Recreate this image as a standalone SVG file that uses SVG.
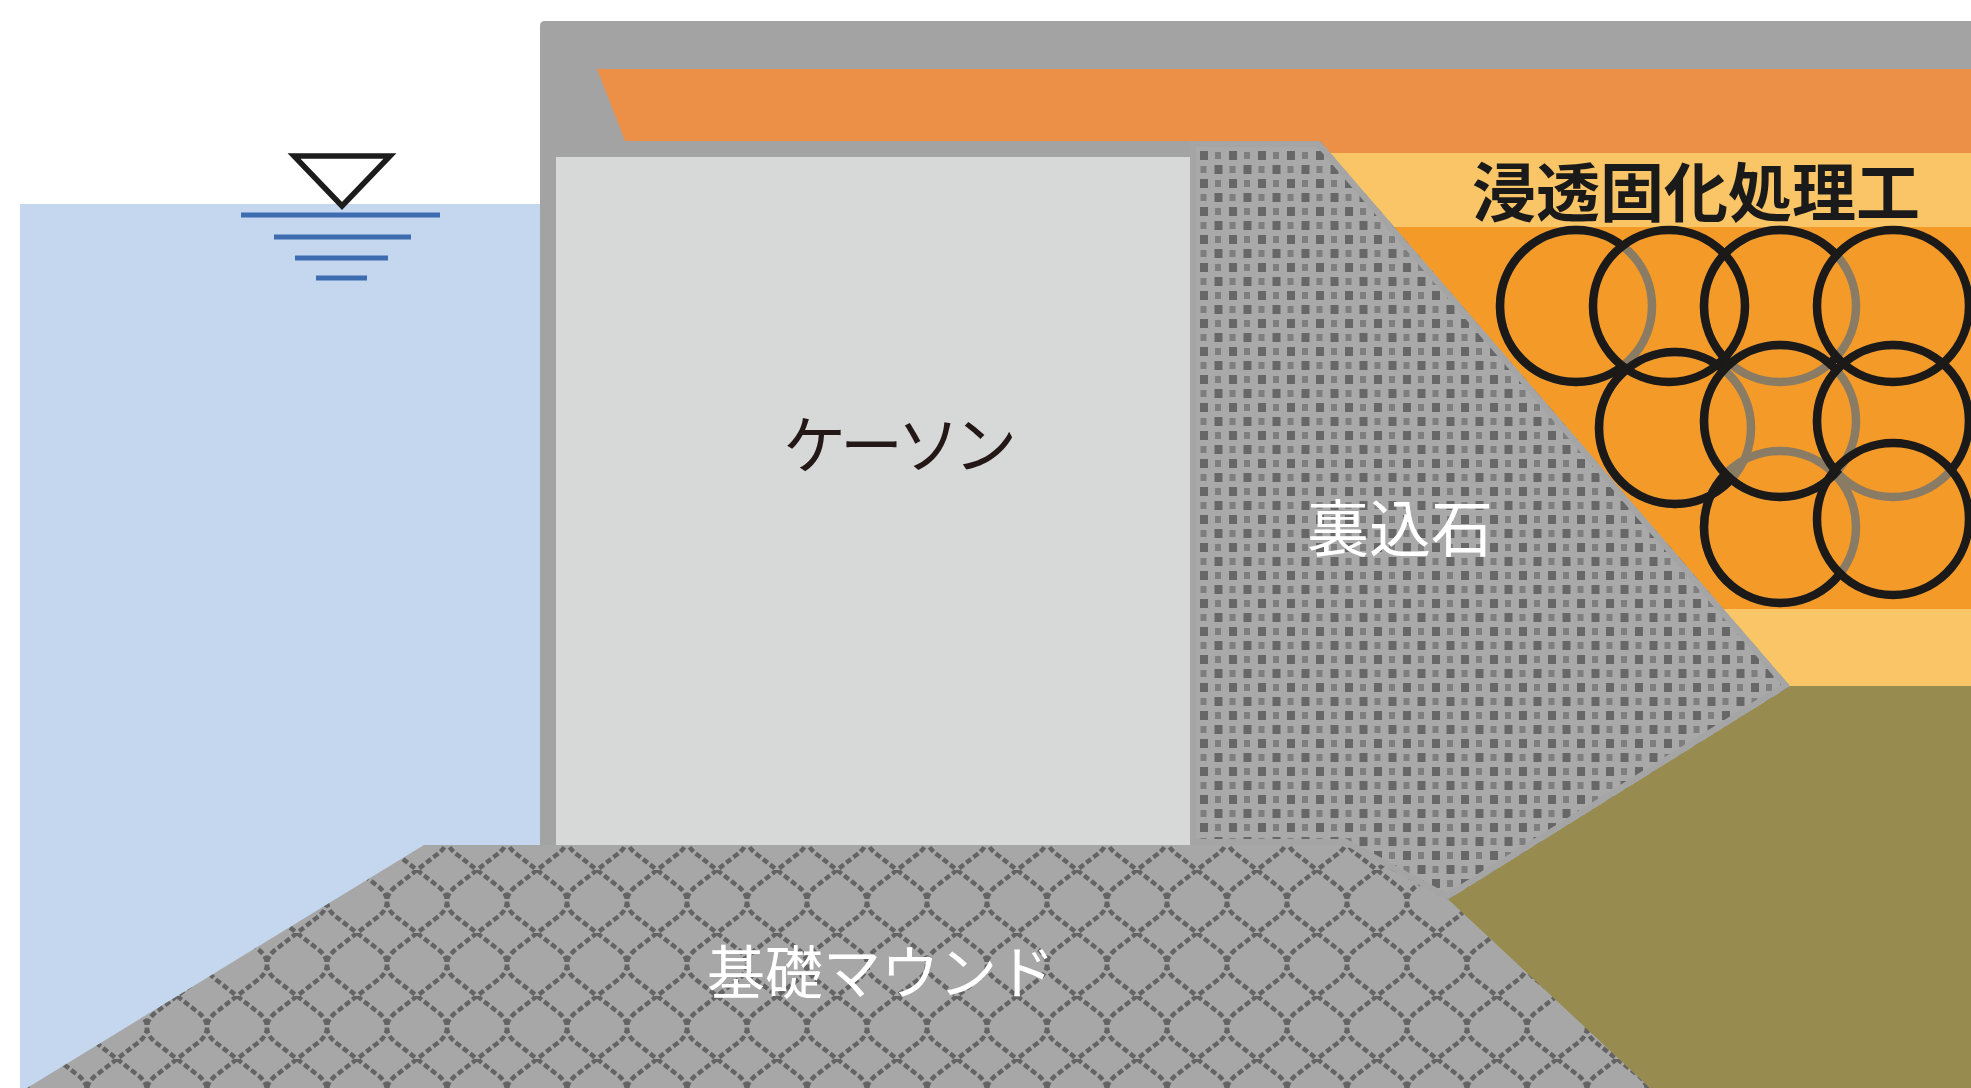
<svg xmlns="http://www.w3.org/2000/svg" width="1971" height="1088" viewBox="0 0 1971 1088">
<style>
  .lbl{font-family:"Noto Sans CJK JP","Noto Sans CJK SC",sans-serif;text-anchor:middle}
  .ring{fill:none;stroke-width:8.5}
  .ring-k{stroke:#1c1a19}
  .ring-g{stroke:#8a7c64}
  .wl{stroke:#3d6db0;stroke-width:5}
</style>
<defs>
  <!-- backfill stones: checkered small squares -->
  <pattern id="stones" width="29" height="28" patternUnits="userSpaceOnUse" patternTransform="translate(1198,149)">
    <rect width="29" height="28" fill="#a9a9a9"/>
    <rect x="2" y="2" width="8" height="9" fill="#676767"/>
    <rect x="16.5" y="16" width="8" height="9" fill="#676767"/>
    <rect x="17" y="3" width="6" height="7" fill="#7e7e7e"/>
    <rect x="2.5" y="17" width="6" height="7" fill="#7e7e7e"/>
  </pattern>
  <!-- rubble mound: interlocking lens/scale lattice -->
  <pattern id="scales" width="60" height="63" patternUnits="userSpaceOnUse" patternTransform="translate(417,870)">
    <rect width="60" height="63" fill="#a7a7a7"/>
    <path d="M0,0 L18,14 Q30,22 30,31.5 Q30,41 18,49 L0,63 M60,0 L42,14 Q30,22 30,31.5 Q30,41 42,49 L60,63" fill="none" stroke="#646464" stroke-width="4.5" stroke-dasharray="6 3"/>
  </pattern>
  <!-- masks hiding the parts of a ring that lie under a later column -->
  <mask id="m1" maskUnits="userSpaceOnUse" x="0" y="0" width="1971" height="1088">
    <rect width="1971" height="1088" fill="#fff"/><circle cx="1669" cy="306" r="72" fill="#000"/>
  </mask>
  <mask id="m3" maskUnits="userSpaceOnUse" x="0" y="0" width="1971" height="1088">
    <rect width="1971" height="1088" fill="#fff"/><circle cx="1780" cy="421" r="72" fill="#000"/><circle cx="1893" cy="306" r="72" fill="#000"/>
  </mask>
  <mask id="m5" maskUnits="userSpaceOnUse" x="0" y="0" width="1971" height="1088">
    <rect width="1971" height="1088" fill="#fff"/><circle cx="1780" cy="421" r="72" fill="#000"/>
  </mask>
  <mask id="m6" maskUnits="userSpaceOnUse" x="0" y="0" width="1971" height="1088">
    <rect width="1971" height="1088" fill="#fff"/><circle cx="1893" cy="421" r="72" fill="#000"/>
  </mask>
  <mask id="m7" maskUnits="userSpaceOnUse" x="0" y="0" width="1971" height="1088">
    <rect width="1971" height="1088" fill="#fff"/><circle cx="1893" cy="519" r="72" fill="#000"/>
  </mask>
  <mask id="m8" maskUnits="userSpaceOnUse" x="0" y="0" width="1971" height="1088">
    <rect width="1971" height="1088" fill="#fff"/><circle cx="1780" cy="421" r="72" fill="#000"/><circle cx="1893" cy="519" r="72" fill="#000"/>
  </mask>
  <clipPath id="bf-clip"><polygon points="1190,141 1320,141 1790,686 1447,900 1345,845 1190,845"/></clipPath>
</defs>

<rect width="1971" height="1088" fill="#ffffff"/>

<g id="sea">
  <rect x="20" y="204" width="520" height="884" fill="#c4d7ee"/>
</g>

<g id="quay-frame">
  <path d="M540,1088 V26 Q540,21 545,21 H1971 V1088 Z" fill="#a3a3a3"/>
</g>

<g id="pavement">
  <polygon points="597,69 1971,69 1971,141 625,141" fill="#ec8f47"/>
</g>

<g id="improved-ground">
  <rect x="1300" y="141" width="671" height="12" fill="#ec8f47"/>
  <rect x="1300" y="153" width="671" height="74" fill="#f9c566"/>
  <rect x="1300" y="227" width="671" height="382" fill="#f49a28"/>
  <rect x="1300" y="609" width="671" height="77" fill="#f9c566"/>
  <g id="columns">
    <!-- hidden ring parts (grey) -->
    <circle class="ring ring-g" cx="1576" cy="306" r="76"/>
    <circle class="ring ring-g" cx="1780" cy="306" r="76"/>
    <circle class="ring ring-g" cx="1675" cy="428" r="76"/>
    <circle class="ring ring-g" cx="1780" cy="421" r="76"/>
    <circle class="ring ring-g" cx="1893" cy="421" r="76"/>
    <circle class="ring ring-g" cx="1780" cy="527" r="76"/>
    <!-- visible ring parts (black) -->
    <circle class="ring ring-k" cx="1576" cy="306" r="76" mask="url(#m1)"/>
    <circle class="ring ring-k" cx="1669" cy="306" r="76"/>
    <circle class="ring ring-k" cx="1780" cy="306" r="76" mask="url(#m3)"/>
    <circle class="ring ring-k" cx="1893" cy="306" r="76"/>
    <circle class="ring ring-k" cx="1675" cy="428" r="76" mask="url(#m5)"/>
    <circle class="ring ring-k" cx="1780" cy="421" r="76" mask="url(#m6)"/>
    <circle class="ring ring-k" cx="1893" cy="421" r="76" mask="url(#m7)"/>
    <circle class="ring ring-k" cx="1780" cy="527" r="76" mask="url(#m8)"/>
    <circle class="ring ring-k" cx="1893" cy="519" r="76"/>
  </g>
</g>

<g id="original-ground">
  <polygon points="1790,686 1971,686 1971,1088 1650,1088 1447,900" fill="#978b50"/>
</g>

<g id="caisson">
  <rect x="556" y="157" width="634" height="688" fill="#d7d8d8"/>
</g>

<g id="mound">
  <polygon points="424,845 1390,845 1650,1088 27,1088" fill="url(#scales)"/>
</g>

<g id="backfill">
  <polygon points="1190,141 1320,141 1790,686 1447,900 1345,845 1190,845" fill="url(#stones)"/>
  <polygon points="1190,141 1320,141 1790,686 1447,900 1345,845 1190,845" fill="none" stroke="#a5a5a5" stroke-width="12" clip-path="url(#bf-clip)"/>
</g>

<g id="water-level">
  <polygon points="294,156 390,156 342,206" fill="none" stroke="#1c1c1c" stroke-width="5.5"/>
  <line class="wl" x1="241" y1="215" x2="440" y2="215"/>
  <line class="wl" x1="274" y1="237" x2="411" y2="237"/>
  <line class="wl" x1="295" y1="258" x2="388" y2="258"/>
  <line class="wl" x1="316" y1="278" x2="367" y2="278"/>
</g>

<g id="labels">
  <text class="lbl" x="1696" y="216" font-size="64" font-weight="700" fill="#1a1a1a">浸透固化処理工</text>
  <text class="lbl" x="897" y="468" font-size="63" letter-spacing="-6" fill="#231815">ケーソン</text>
  <text class="lbl" x="1400" y="552" font-size="62" fill="#ffffff">裏込石</text>
  <text class="lbl" x="881" y="994" font-size="58" fill="#ffffff">基礎マウンド</text>
</g>

<g id="connectors"/>
</svg>
